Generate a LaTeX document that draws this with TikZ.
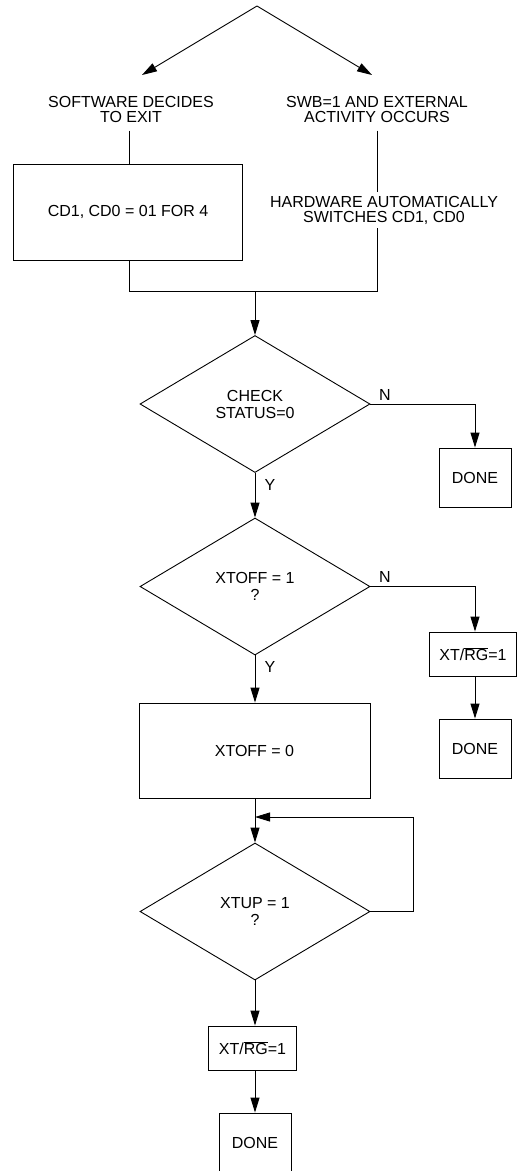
\documentclass[tikz,border=0pt]{standalone}
\usepackage{fontspec}
\setmainfont{Liberation Sans}
\usetikzlibrary{shapes.geometric,arrows.meta}

\begin{document}
\begin{tikzpicture}[x=1pt,y=-1pt,line width=0.9pt,
  font=\fontsize{16}{15}\selectfont,
  arr/.style={-{Triangle[length=15pt,width=9pt]}},
  procbox/.style={draw,inner sep=0pt,minimum width=#1},
  decision/.style={draw,diamond,inner sep=0pt,align=center,
    minimum width=230pt,minimum height=137pt,
    font=\fontsize{16}{17}\selectfont},
  lbl/.style={align=center,inner sep=#1}]
\useasboundingbox (0,0) rectangle (524,1171);
% Nodes
\coordinate (fork) at (257,6);
\coordinate (swtip) at (142,75);
\coordinate (swbtip) at (372,75);
\node[lbl=8pt] (swtxt) at (131,109) {SOFTWARE DECIDES\\TO EXIT};
\node[lbl=8pt] (swbtxt) at (377,109) {SWB=1 AND EXTERNAL\\ACTIVITY OCCURS};
\node[procbox=229pt,minimum height=96pt] (cdbox) at (128,212) {CD1, CD0 = 01 FOR 4};
\node[lbl=3pt] (hwtxt) at (384,210) {HARDWARE AUTOMATICALLY\\SWITCHES CD1, CD0};
\coordinate (jl) at (129,291);
\coordinate (jm) at (255,291);
\coordinate (jr) at (377,291);
\node[decision] (chk) at (255,404) {CHECK\\STATUS=0};
\node (n1) at (385,394.5) {N};
\node (y1) at (270,484.5) {Y};
\node[procbox=72pt,minimum height=59pt] (done1) at (475,477.5) {DONE};
\node[decision] (xtoff) at (255,586.5) {XTOFF = 1\\?};
\node (n2) at (385,577) {N};
\node (y2) at (270,667) {Y};
\node[procbox=87pt,minimum height=44pt] (xtrg1) at (473,654) {XT/$\overline{\mbox{RG}}$=1};
\node[procbox=72pt,minimum height=59pt] (done2) at (475,748.5) {DONE};
\node[procbox=231pt,minimum height=95pt] (xtclr) at (254.5,750.5) {XTOFF = 0};
\coordinate (back) at (255,817);
\node[decision] (xtup) at (255,911.5) {XTUP = 1\\?};
\node[procbox=88pt,minimum height=44pt] (xtrg2) at (252.5,1048) {XT/$\overline{\mbox{RG}}$=1};
\node[procbox=72pt,minimum height=59pt] (done3) at (255,1142.5) {DONE};
% Lines
\draw[arr] (fork) -- (swtip);
\draw[arr] (fork) -- (swbtip);
\draw (swtxt.south -| jl) -- (jl |- cdbox.north);
\draw (swbtxt.south) -- (swbtxt.south |- hwtxt.north);
\draw (jl |- cdbox.south) -- (jl) -- (jr) -- (jr |- hwtxt.south);
\draw[arr] (jm) -- (chk.north);
\draw[arr] (chk.east) -| (done1.north);
\draw[arr] (chk.south) -- (xtoff.north);
\draw[arr] (xtoff.east) -| (xtrg1.north -| done2);
\draw[arr] (xtrg1.south -| done2) -- (done2.north);
\draw[arr] (xtoff.south) -- (xtoff.south |- xtclr.north);
\draw[arr] (xtoff.south |- xtclr.south) -- (xtup.north);
\draw[arr] (xtup.east) -- ++(43,0) |- (back);
\draw[arr] (xtup.south) -- (xtup.south |- xtrg2.north);
\draw[arr] (xtup.south |- xtrg2.south) -- (done3.north);
\end{tikzpicture}
\end{document}
